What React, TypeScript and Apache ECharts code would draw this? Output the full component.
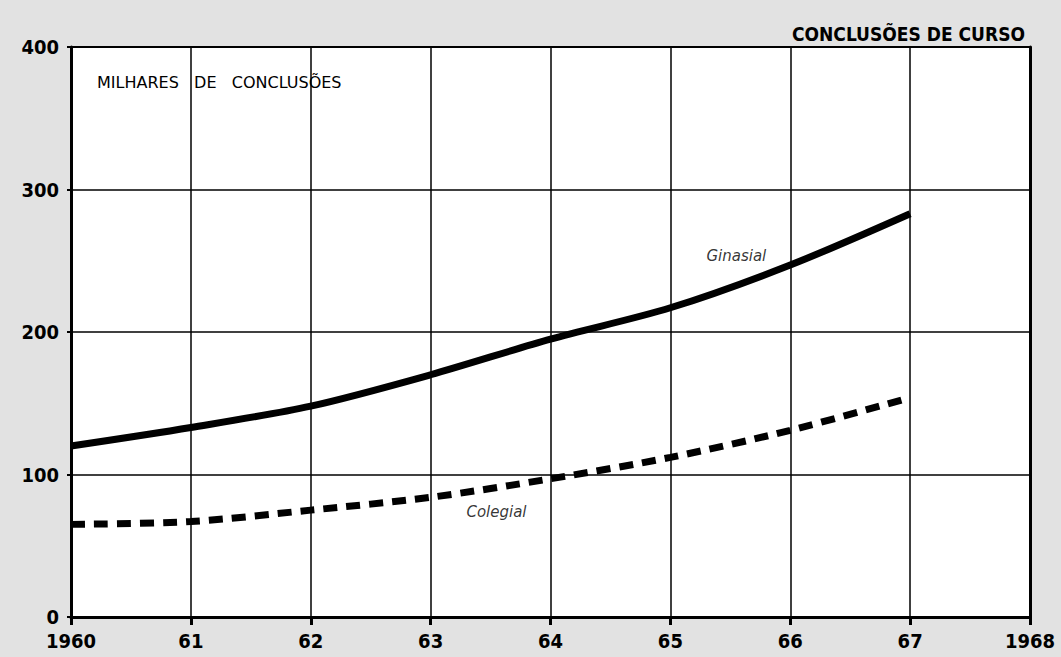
import React, { useEffect, useRef } from "react";
import * as echarts from "echarts";

const years = [1960, 1961, 1962, 1963, 1964, 1965, 1966, 1967];
const ginasial = [120, 133, 148, 170, 195, 217, 247, 283];
const colegial = [65, 67, 75, 84, 97, 112, 131, 154];
const yTicks = [0, 100, 200, 300, 400];

const TITLE = "CONCLUSÕES DE CURSO";
const UNIT = "MILHARES   DE   CONCLUSÕES";

export default function App() {
  const ref = useRef<HTMLDivElement>(null);
  useEffect(() => {
    document.body.style.margin = "0";
    const chart = echarts.init(ref.current!, null, { renderer: "svg" });
    const labelFont = { color: "#000", fontFamily: "DejaVu Sans Condensed", fontSize: 20, fontWeight: "bold" as const };
    chart.setOption({
      animation: false,
      backgroundColor: "#e2e2e2",
      grid: {
        left: 71, right: 31, top: 47, bottom: 40,
        show: true, backgroundColor: "#ffffff", borderColor: "#000", borderWidth: 2,
      },
      title: {
        text: TITLE, right: 31, top: 19,
        textStyle: { fontFamily: "DejaVu Sans Condensed", fontWeight: "bold", fontSize: 19, color: "#000" },
      },
      graphic: [
        { type: "text", left: 97, top: 74, style: { text: UNIT, fontFamily: "DejaVu Sans", fontSize: 16, fill: "#000" } },
      ],
      xAxis: {
        type: "value", min: 1960, max: 1968, interval: 1,
        axisLine: { show: true, lineStyle: { color: "#000", width: 3 } },
        axisTick: { show: true, length: 8, lineStyle: { color: "#000", width: 3 } },
        axisLabel: {
          ...labelFont, margin: 14,
          formatter: (v: number) => (v === 1960 || v === 1968 ? String(v) : String(v).slice(2)),
        },
        splitLine: { show: true, lineStyle: { color: "#000", width: 1.5 } },
      },
      yAxis: [
        {
          type: "value", min: 0, max: 400, interval: 100,
          axisLine: { show: true, lineStyle: { color: "#000", width: 3 } },
          axisTick: { show: true, length: 4, lineStyle: { color: "#000", width: 2 } },
          axisLabel: { ...labelFont, margin: 12, formatter: (v: number) => (yTicks.includes(v) ? String(v) : "") },
          splitLine: { show: true, lineStyle: { color: "#000", width: 1.5 } },
        },
        {
          type: "value", min: 0, max: 400, interval: 100, position: "right",
          axisLine: { show: true, lineStyle: { color: "#000", width: 3 } },
          axisTick: { show: false }, axisLabel: { show: false }, splitLine: { show: false },
        },
      ],
      series: [
        {
          name: "Ginasial", type: "line", smooth: 0.3, symbol: "none",
          data: years.map((y, i) => [y, ginasial[i]]),
          lineStyle: { color: "#000", width: 7 },
        },
        {
          name: "Colegial", type: "line", smooth: 0.3, symbol: "none",
          data: years.map((y, i) => [y, colegial[i]]),
          lineStyle: { color: "#000", width: 7, type: [14, 9] },
        },
        {
          type: "scatter", symbolSize: 0, silent: true,
          data: [
            { value: [1965.8, 253], label: { show: true, formatter: "Ginasial", position: "left" } },
            { value: [1963.8, 74], label: { show: true, formatter: "Colegial", position: "left" } },
          ],
          label: { color: "#000", fontFamily: "DejaVu Sans", fontStyle: "italic", fontSize: 15, distance: 0 },
        },
      ],
    });
    return () => chart.dispose();
  }, []);
  return <div ref={ref} style={{ position: "fixed", left: 0, top: 0, width: 1061, height: 657 }} />;
}
